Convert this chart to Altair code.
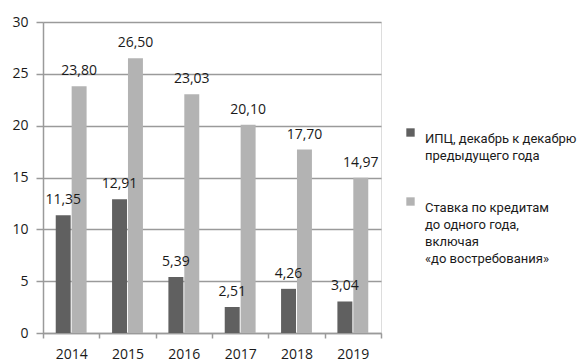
import altair as alt
import pandas as pd

# Values per year
years = ["2014", "2015", "2016", "2017", "2018", "2019"]
cpi = [11.35, 12.91, 5.39, 2.51, 4.26, 3.04]
loan_rate = [23.80, 26.50, 23.03, 20.10, 17.70, 14.97]

# Series names ("|" marks a line break in the legend)
series = [
    "ИПЦ, декабрь к декабрю|предыдущего года",
    "Ставка по кредитам|до одного года,|включая|«до востребования»",
]
colors = ["#606060", "#b3b3b3"]
y_ticks = [0, 5, 10, 15, 20, 25, 30]

rows = []
for i, y in enumerate(years):
    rows.append({"year": y, "series": series[0], "value": cpi[i]})
    rows.append({"year": y, "series": series[1], "value": loan_rate[i]})
df = pd.DataFrame(rows)

FONT = "Open Sans"
LEGEND_FONT = "Roboto"
TEXT = "#1a1a1a"
GRID = "#9a9a9a"

x_enc = alt.X(
    "year:N",
    sort=years,
    title=None,
    scale=alt.Scale(paddingInner=0, paddingOuter=0),
    axis=alt.Axis(
        labelAngle=0,
        tickBand="extent",
        tickSize=5,
        labelPadding=9,
        labelFontSize=14,
        labelFont=FONT,
        labelColor=TEXT,
        domainColor=GRID,
        tickColor=GRID,
        domainWidth=1.5,
        tickWidth=1.5,
        grid=False,
    ),
)
y_enc = alt.Y(
    "value:Q",
    title=None,
    scale=alt.Scale(domain=[0, 30], nice=False),
    axis=alt.Axis(
        values=y_ticks,
        tickSize=7,
        labelPadding=8,
        labelFontSize=14,
        labelFont=FONT,
        labelColor=TEXT,
        domainColor=GRID,
        tickColor=GRID,
        gridColor=GRID,
        domainWidth=1.5,
        tickWidth=1.5,
        gridWidth=1.5,
        grid=True,
    ),
)
off_enc = alt.XOffset(
    "series:N",
    sort=series,
    scale=alt.Scale(paddingInner=0.06, paddingOuter=0.8),
)
color_enc = alt.Color(
    "series:N",
    sort=series,
    scale=alt.Scale(domain=series, range=colors),
    legend=alt.Legend(
        title=None,
        orient="none",
        legendX=361,
        legendY=104,
        symbolType="square",
        symbolSize=70,
        symbolStrokeWidth=0,
        labelExpr="split(datum.label, '|')",
        labelFont=LEGEND_FONT,
        labelFontSize=13,
        labelColor=TEXT,
        labelLimit=300,
        labelOffset=8,
        labelBaseline="top",
        rowPadding=32,
        padding=0,
    ),
)

base = alt.Chart(df).encode(x=x_enc, xOffset=off_enc)

bars = base.mark_bar().encode(y=y_enc, color=color_enc)

labels = base.transform_calculate(
    label="replace(format(datum.value, '.2f'), '.', ',')"
).mark_text(
    font=FONT, fontSize=14, color=TEXT, baseline="alphabetic", dy=-11
).encode(y=alt.Y("value:Q"), text="label:N")

chart = (
    alt.layer(bars, labels)
    .properties(
        width=338,
        height=311,
        autosize="none",
        padding={"left": 43, "top": 22, "right": 196, "bottom": 30},
    )
    .configure_view(stroke=None)
    .configure(background="white", style={"guide-label": {"lineHeight": 17}})
)

chart.save("out.html", embed_options={"renderer": "svg", "actions": False})
